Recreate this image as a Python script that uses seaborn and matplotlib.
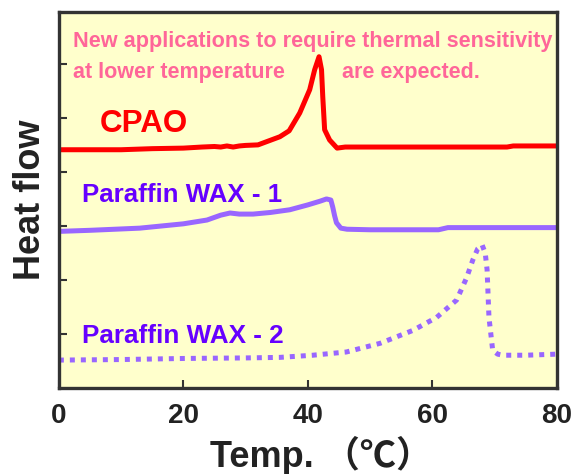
import matplotlib
matplotlib.use("Agg")
import matplotlib.pyplot as plt
import pandas as pd
import seaborn as sns

# DSC curves (y in arbitrary heat-flow units)
cpao_t = [0, 5, 10, 15, 20, 23, 25, 26, 27, 28, 29, 30, 32, 35.5, 37, 38.7,
          40.3, 41.1, 41.8, 42.2, 42.4, 42.7, 43.5, 44.7, 46, 55, 65, 72, 73, 80]
cpao_hf = [4.41, 4.41, 4.41, 4.43, 4.44, 4.46, 4.47, 4.46, 4.48, 4.46, 4.48, 4.49,
           4.50, 4.65, 4.76, 5.09, 5.52, 5.89, 6.13, 5.89, 5.39, 4.78, 4.59,
           4.44, 4.46, 4.46, 4.46, 4.46, 4.48, 4.48]

wax1_t = [0, 5, 13, 20, 23.8, 26, 27.5, 29, 31.2, 34, 37.1, 40, 42, 43, 43.7,
          44, 44.3, 44.6, 45.3, 46.3, 50, 55, 61, 62.5, 70, 80]
wax1_hf = [2.90, 2.92, 2.96, 3.04, 3.11, 3.20, 3.24, 3.22, 3.22, 3.25, 3.30,
           3.39, 3.46, 3.50, 3.48, 3.35, 3.19, 3.06, 2.96, 2.94, 2.93, 2.93,
           2.93, 2.97, 2.97, 2.97]

wax2_t = [0, 10, 20, 30, 35.5, 40.8, 46.2, 51.6, 56.9, 60.7, 63.9, 65.5, 66.5,
          67.3, 68, 68.5, 68.8, 69.1, 69.7, 70.5, 71.3, 75, 80]
wax2_hf = [0.52, 0.53, 0.55, 0.56, 0.57, 0.61, 0.67, 0.83, 1.07, 1.31, 1.63,
           2.04, 2.37, 2.58, 2.65, 2.50, 2.19, 1.31, 0.70, 0.63, 0.61, 0.61, 0.63]

x_ticks = [0, 20, 40, 60, 80]
y_ticks = [1, 2, 3, 4, 5, 6]

sns.set_style('ticks')
plt.rcParams['font.family'] = ['Liberation Sans', 'Noto Sans CJK JP', 'DejaVu Sans']

fig = plt.figure(figsize=(5.77, 4.74), dpi=100)
ax = fig.add_axes([0.102, 0.181, 0.863, 0.794])
ax.set_facecolor('#FFFFCC')

df1 = pd.DataFrame({'t': cpao_t, 'hf': cpao_hf})
df2 = pd.DataFrame({'t': wax1_t, 'hf': wax1_hf})
df3 = pd.DataFrame({'t': wax2_t, 'hf': wax2_hf})

sns.lineplot(data=df1, x='t', y='hf', sort=False, color='#FF0000', lw=3.6,
             ax=ax, solid_joinstyle='round', solid_capstyle='round')
sns.lineplot(data=df2, x='t', y='hf', sort=False, color='#9966FF', lw=3.6,
             ax=ax, solid_joinstyle='round', solid_capstyle='round')
sns.lineplot(data=df3, x='t', y='hf', sort=False, color='#9966FF', lw=3.6,
             ax=ax, linestyle=(0, (1, 1.2)), dash_capstyle='butt')

ax.set_xlim(0, 80)
ax.set_ylim(0, 6.96)
ax.set_xticks(x_ticks)
ax.set_yticks(y_ticks)
ax.set_yticklabels([])
ax.tick_params(direction='in', length=6, width=1.5, color='#333333')
ax.tick_params(axis='x', labelsize=20, labelcolor='#222222', pad=11)
for lbl in ax.get_xticklabels():
    lbl.set_fontweight('bold')
for s in ax.spines.values():
    s.set_linewidth(2.4)
    s.set_color('#333333')

ax.set_xlabel('Temp. （℃）', fontsize=26, fontweight='bold', color='#222222', labelpad=5)
ax.xaxis.label.set_x(0.527)
ax.set_ylabel('Heat flow', fontsize=26, fontweight='bold', color='#222222', labelpad=4)


# the original uses a condensed face; shrink each label to the width it has there
def put(x, y, s, width_px, size, color):
    t = ax.text(x, y, s, color=color, fontsize=size, fontweight='bold', va='baseline')
    r = fig.canvas.get_renderer()
    w = t.get_window_extent(r).width
    t.set_fontsize(size * width_px / w)
    return t


put(6.6, 4.74, 'CPAO', 88, 22, '#FF0000')
put(3.7, 3.44, 'Paraffin WAX - 1', 200, 22, '#6600FF')
put(3.7, 0.83, 'Paraffin WAX - 2', 202, 22, '#6600FF')
put(2.25, 6.31, 'New applications to require thermal sensitivity', 477, 18, '#FF6699')
put(2.25, 5.74, 'at lower temperature', 212, 18, '#FF6699')
put(45.5, 5.74, 'are expected.', 138, 18, '#FF6699')

fig.savefig('out.png', dpi=100)
